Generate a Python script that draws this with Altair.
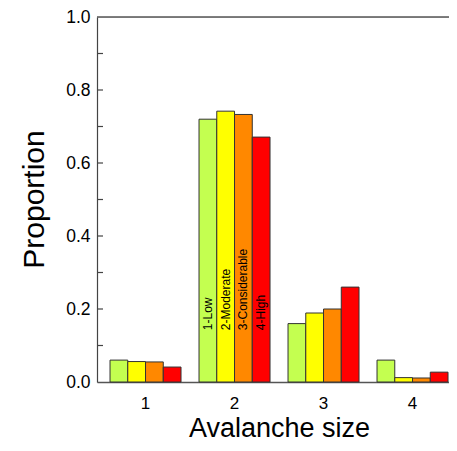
import altair as alt
import pandas as pd

sizes = [1, 2, 3, 4]
levels = ["1-Low", "2-Moderate", "3-Considerable", "4-High"]
colors = ["#C4FF50", "#FFFF00", "#FF8800", "#FF0000"]
low = [0.060, 0.720, 0.160, 0.060]
moderate = [0.056, 0.742, 0.189, 0.012]
considerable = [0.055, 0.733, 0.200, 0.011]
high = [0.041, 0.671, 0.260, 0.027]
y_ticks = [0.0, 0.2, 0.4, 0.6, 0.8, 1.0]
minor_ticks = [0.1, 0.2, 0.3, 0.4, 0.5, 0.6, 0.7, 0.8, 0.9]
label_size = 2
label_base = 0.142

series = [low, moderate, considerable, high]
rows = []
for lev, vals in zip(levels, series):
    for s, v in zip(sizes, vals):
        rows.append({"size": s, "level": lev, "value": v})
df = pd.DataFrame(rows)

W, H = 352, 365
FONT = "Liberation Sans"

x_enc = alt.X("size:O",
              scale=alt.Scale(paddingInner=0.2022, paddingOuter=0.0787, align=0.93),
              axis=alt.Axis(title="Avalanche size", labelAngle=0, labelFontSize=17,
                            labelFont=FONT, labelColor="#000", ticks=False, tickSize=0,
                            labelPadding=26, labelBaseline="alphabetic",
                            domainColor="#555", domainWidth=1.5,
                            titleFont=FONT, titleFontSize=27, titleFontWeight="normal",
                            titleColor="#000", titleBaseline="alphabetic",
                            titleX=182, titleY=54, titleAnchor="middle", titleAlign="center"))
y_scale = alt.Scale(domain=[0, 1], nice=False, zero=True)
y_enc = alt.Y("value:Q", scale=y_scale,
              axis=alt.Axis(title="Proportion", values=y_ticks, format=".1f",
                            labelFontSize=17.5, labelFont=FONT, labelColor="#000",
                            ticks=False, tickSize=0, labelPadding=7, grid=False,
                            domainColor="#444", domainWidth=1.2,
                            titleFont=FONT, titleFontSize=30, titleFontWeight="normal",
                            titleColor="#000", titleBaseline="alphabetic",
                            titleX=-54, titleY=182, titleAngle=270, titleAlign="center"))
off_enc = alt.XOffset("level:N", sort=levels,
                      scale=alt.Scale(paddingInner=0, paddingOuter=0))

bars = alt.Chart(df).mark_bar(stroke="#333", strokeWidth=1).encode(
    x=x_enc,
    xOffset=off_enc,
    y=y_enc,
    color=alt.Color("level:N", sort=levels,
                    scale=alt.Scale(domain=levels, range=colors), legend=None),
)

labels = alt.Chart(df).transform_filter(alt.datum.size == label_size).mark_text(
    angle=270, align="left", baseline="middle", font=FONT, fontSize=12, color="#000"
).encode(
    x=alt.X("size:O"),
    xOffset=alt.XOffset("level:N", sort=levels),
    y=alt.datum(label_base),
    text="level:N",
)

left_ticks = alt.Chart(pd.DataFrame({"t": minor_ticks})).mark_rule(
    color="#444", strokeWidth=1.2
).encode(y=alt.Y("t:Q", scale=y_scale), x=alt.value(0), x2=alt.value(6))

top_line = alt.Chart(pd.DataFrame({"t": [1.0]})).mark_rule(
    color="#555", strokeWidth=1.5
).encode(y=alt.Y("t:Q", scale=y_scale), x=alt.value(0), x2=alt.value(W))

chart = alt.layer(bars, labels, left_ticks, top_line).properties(
    width=W, height=H,
    autosize=alt.AutoSizeParams(type="none"),
    padding={"left": 89, "top": 9, "right": 0, "bottom": 60},
).configure_view(stroke=None).configure(background="white")

chart.save("out.html", embed_options={"renderer": "svg", "actions": False})
